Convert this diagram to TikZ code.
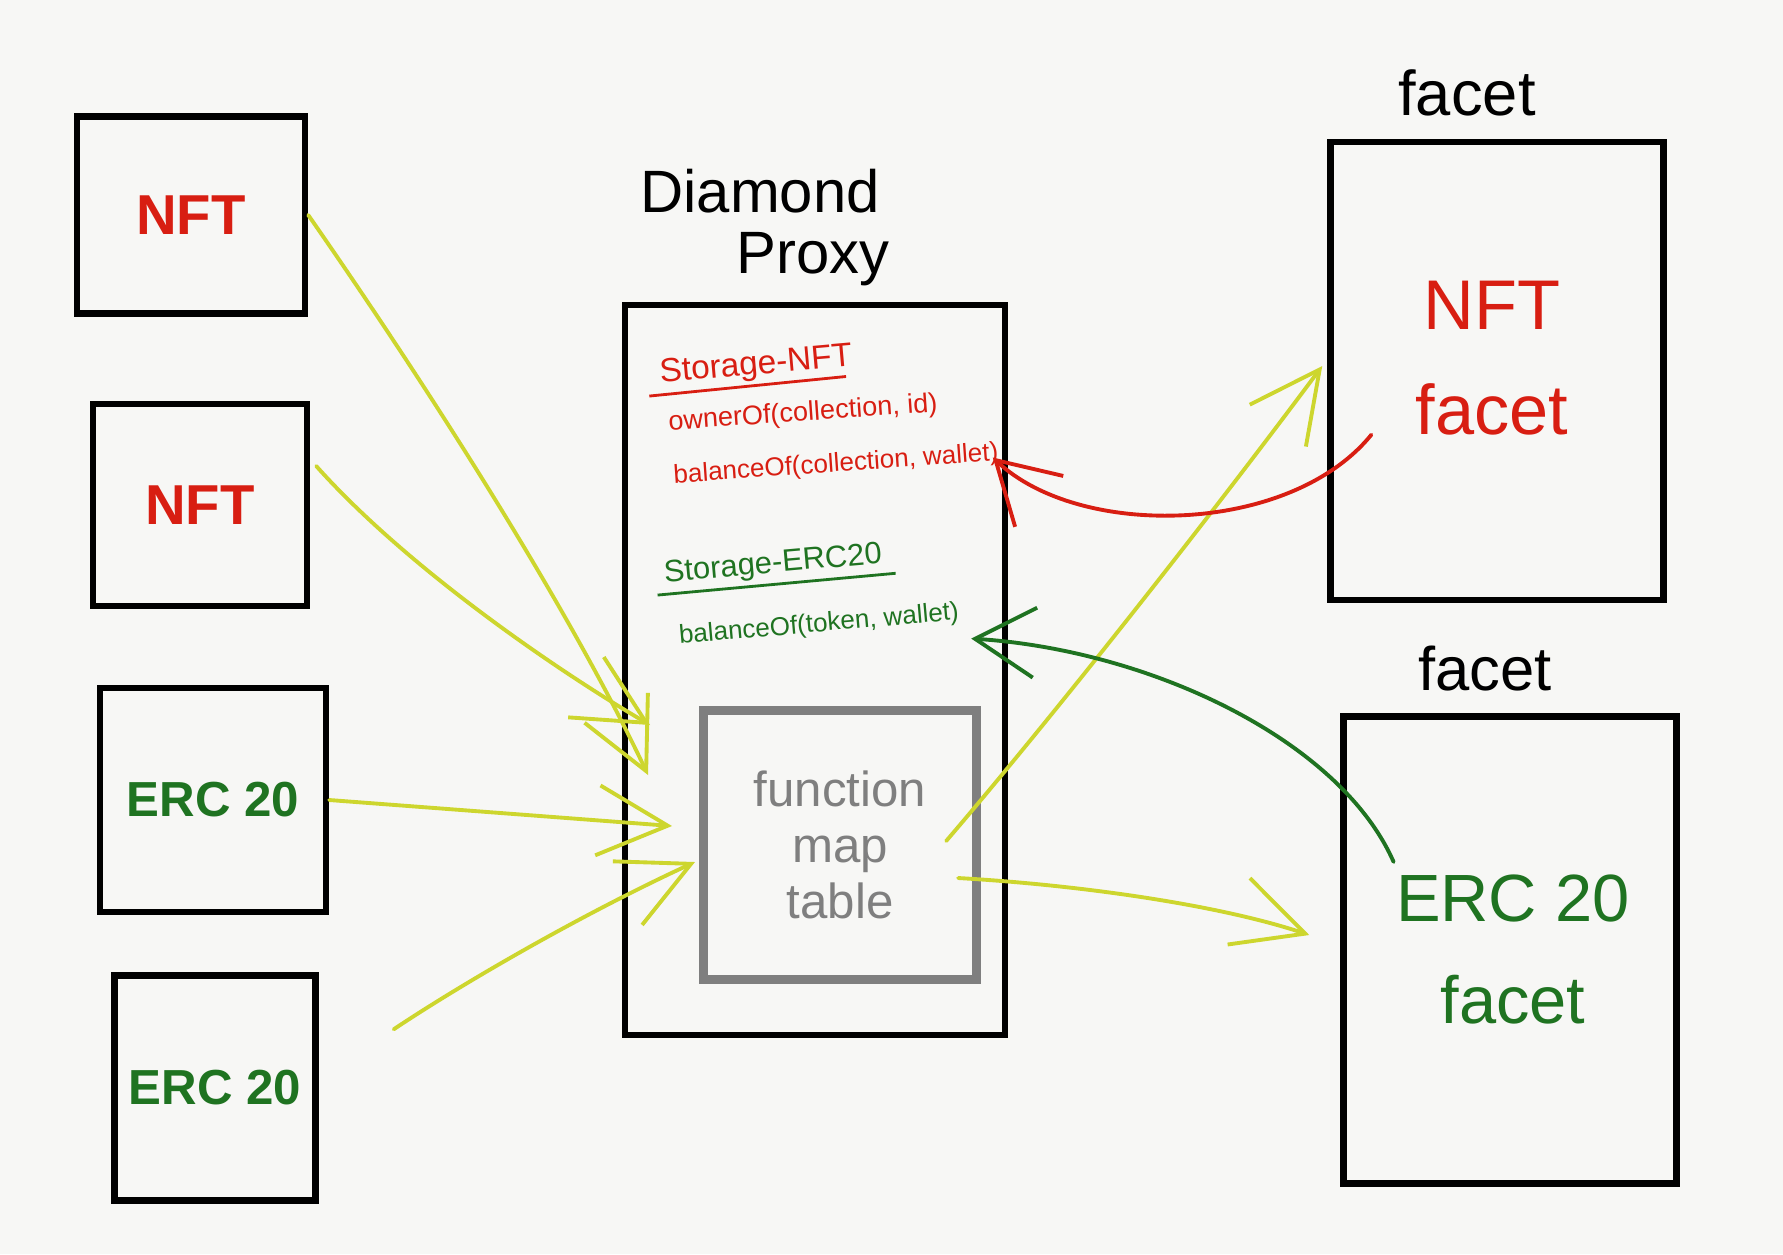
\documentclass[tikz,border=0pt]{standalone}
\usepackage{fontspec}
\setmainfont{Liberation Sans}
\usetikzlibrary{arrows.meta,positioning,calc}
\definecolor{pred}{HTML}{D81E12}
\definecolor{pgreen}{HTML}{1F7321}
\definecolor{pyellow}{HTML}{CDD62E}
\definecolor{pgray}{HTML}{7F7F7F}
\definecolor{paper}{HTML}{F7F7F5}
\newcommand{\fsz}[2]{\fontsize{#1}{#2}\selectfont}

\begin{document}
\begin{tikzpicture}[x=0.01cm,y=-0.01cm,
    sketchbox/.style={draw=black,line width=1.8pt,inner sep=0pt},
    feed/.style={draw=pyellow,line width=1.1pt,line cap=round,
                 -{Straight Barb[length=7mm,width=7mm]}},
    readred/.style={draw=pred,line width=1.1pt,line cap=round,
                 -{Straight Barb[length=6mm,width=7mm]}},
    readgreen/.style={draw=pgreen,line width=1.1pt,line cap=round,
                 -{Straight Barb[length=6mm,width=7mm]}}]
  \fill[paper] (0,0) rectangle (1783,1254);
  \useasboundingbox (0,0) rectangle (1783,1254);

  % callers on the left
  \node[sketchbox,minimum width=2.28cm,minimum height=1.97cm] (nft1) at (191,215)
    {\fsz{16}{19}\bfseries\color{pred}NFT};
  \node[sketchbox,minimum width=2.14cm,minimum height=2.02cm] (nft2) at (200,505)
    {\fsz{16}{19}\bfseries\color{pred}NFT};
  \node[sketchbox,minimum width=2.26cm,minimum height=2.24cm] (erc1) at (213,800)
    {\fsz{14}{17}\bfseries\color{pgreen}ERC 20};
  \node[sketchbox,minimum width=2.01cm,minimum height=2.25cm] (erc2) at (215,1088)
    {\fsz{14}{17}\bfseries\color{pgreen}ERC 20};

  % diamond proxy
  \node (dia) at (760,191) {\fsz{17}{20}Diamond};
  \node (prx) at (813,259) {\fsz{17}{20}Proxy};
  \node[sketchbox,minimum width=3.8cm,minimum height=7.3cm] (proxy) at (815,670) {};
  \node[draw=pgray,line width=2.6pt,minimum width=2.73cm,minimum height=2.69cm,
        align=center,text=pgray,font=\fsz{14}{16}] (map) at (840,845)
    {function\\map\\table};

  % storage layouts
  \node[text=pred,rotate=5,inner sep=1pt] (sNft) at (756,366) {\fsz{9.5}{11}Storage-NFT};
  \draw[pred,line width=0.8pt] ($(sNft.south west)+(-8,2)$) -- ($(sNft.south east)+(-12,0)$);
  \node[text=pred,rotate=4,inner sep=0.5pt] (owner) at (803,414) {\fsz{7.7}{9}ownerOf(collection, id)};
  \node[text=pred,rotate=4,inner sep=0.5pt] (balNft) at (836,465) {\fsz{7.4}{9}balanceOf(collection, wallet)};
  \node[text=pgreen,rotate=5,inner sep=1pt] (sErc) at (773,565) {\fsz{8.8}{10}Storage-ERC20};
  \draw[pgreen,line width=0.8pt] ($(sErc.south west)+(-4,2)$) -- ($(sErc.south east)+(8,0)$);
  \node[text=pgreen,rotate=5,inner sep=0.5pt] (balErc) at (819,625) {\fsz{7.4}{9}balanceOf(token, wallet)};

  % facets on the right
  \node[sketchbox,minimum width=3.33cm,minimum height=4.58cm] (nftFacet) at (1497,371) {};
  \node[above=1mm of nftFacet,xshift=-3mm] (nftLbl) {\fsz{18}{21}facet};
  \node[align=center,text=pred,font=\fsz{20}{30}] (nftTxt) at (1492,358) {NFT\\facet};
  \node[sketchbox,minimum width=3.33cm,minimum height=4.67cm] (ercFacet) at (1510,950) {};
  \node[above=1mm of ercFacet,xshift=-2.5mm] (ercLbl) {\fsz{17.5}{21}facet};
  \node[align=center,text=pgreen,font=\fsz{19}{29}] (ercTxt) at (1513,949) {ERC 20\\facet};

  % ends of the calls
  \coordinate (inA) at (648,775);
  \coordinate (inB) at (650,725);
  \coordinate (inC) at (672,826);
  \coordinate (inD) at (695,862);

  % calls into the proxy
  \draw[feed] (nft1.east) .. controls (430,390) and (570,610) .. (inA);
  \draw[feed] ($(nft2.east)+(6,-39)$) .. controls (400,560) and (540,660) .. (inB);
  \draw[feed] (erc1.east) -- (inC);
  \draw[feed] ($(erc2.north east)+(75,57)$) .. controls (460,985) and (580,915) .. (inD);

  % delegate to facets
  \draw[feed] ($(map.east)+(-35,-4)$) .. controls (1050,720) and (1200,530) .. ($(nftFacet.west)+(-5,-5)$);
  \draw[feed] ($(map.east)+(-23,33)$) .. controls (1080,885) and (1220,905) .. ($(ercFacet.west)+(-31,-15)$);

  % facets read storage
  \draw[readred] ($(nftTxt.south west)+(-32,-13)$) .. controls (1290,535) and (1080,540) .. ($(balNft.east)+(-8,4)$);
  \draw[readgreen] ($(ercTxt.north west)+(10,0)$) .. controls (1340,740) and (1150,650) .. ($(balErc.east)+(10,26)$);
\end{tikzpicture}
\end{document}
